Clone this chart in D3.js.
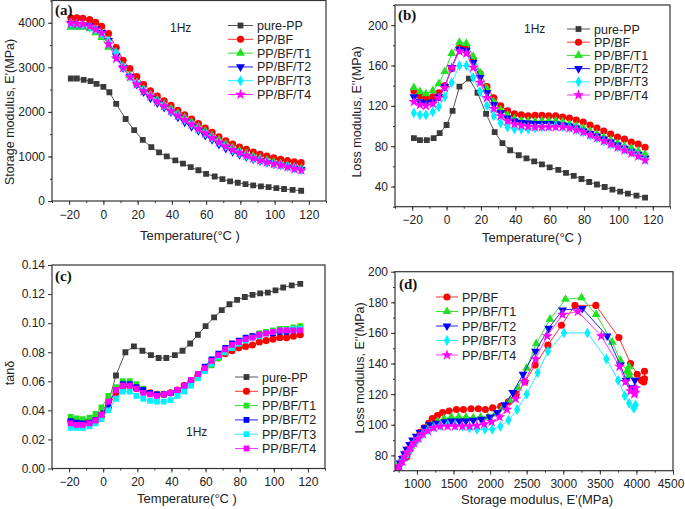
<!DOCTYPE html>
<html><head><meta charset="utf-8">
<script src="https://cdn.jsdelivr.net/npm/d3@7"></script>
<style>body{margin:0;background:#fff}svg{display:block;font-family:Arial,"Liberation Sans",sans-serif}</style>
</head><body><svg id="c" width="685" height="509"></svg>
<script>
const seriesNames = ["pure-PP","PP/BF","PP/BF/T1","PP/BF/T2","PP/BF/T3","PP/BF/T4"];
const tempTicks = [-20,0,20,40,60,80,100,120];

const tempPure = [-19,-15.5,-11.5,-7.5,-4,0,3.5,7.5,13,18,23,28,32.5,37,42,46.5,51,55.5,60,65,69.5,74,78.5,83,87.5,92,96.5,101,105.5,110.5,115.5];
const storagePure = [2750,2750,2720,2690,2630,2560,2440,2180,1840,1590,1370,1210,1090,1000,910,840,760,690,610,550,490,440,410,380,350,330,310,290,270,250,230];
const lossPure = [88,86,86,88,93,101,115,139,147,133,112,94,83,76,71,68,65,62,59,56.5,53.5,50.5,47.5,44.5,42,39.5,37,35,33,31,29];
const tanPure = [0.032,0.031,0.032,0.033,0.035,0.040,0.047,0.064,0.080,0.084,0.081,0.078,0.076,0.076,0.078,0.081,0.086,0.092,0.098,0.104,0.109,0.113,0.116,0.118,0.1195,0.1205,0.121,0.1225,0.1245,0.126,0.127];

const tempComp = [-19,-15.5,-12,-8,-4.5,-1,3,7.5,11.5,15.5,19.5,23.5,27.5,31.5,35.5,39.5,43.5,47.5,51.5,55.5,59.5,63.5,67.5,71.5,75.5,79.5,83.5,87.5,91.5,95.5,99.5,103.5,107.5,111.5,115.5];

const storageBF = [4110,4110,4100,4070,4010,3920,3760,3445,3160,2975,2790,2615,2475,2355,2250,2145,2035,1935,1840,1740,1635,1540,1440,1350,1280,1210,1160,1100,1045,1010,970,935,905,880,860];
const storageT1 = [3900,3900,3900,3870,3780,3670,3450,3250,3030,2820,2630,2500,2380,2270,2170,2070,1970,1870,1770,1670,1570,1470,1370,1280,1200,1130,1070,1010,960,920,880,840,800,760,730];
const storageT2 = [3980,3960,3950,3930,3860,3780,3600,3260,2990,2800,2620,2450,2310,2200,2100,2000,1880,1770,1670,1580,1470,1380,1270,1180,1110,1040,990,940,900,860,830,800,770,740,710];
const storageT3 = [3990,3970,3960,3900,3840,3750,3590,3330,3010,2790,2650,2500,2370,2250,2140,2030,1930,1820,1720,1620,1520,1420,1320,1230,1150,1080,1020,960,920,880,840,810,780,740,700];
const storageT4 = [3990,3980,3970,3920,3850,3770,3520,3200,2990,2780,2620,2470,2350,2230,2130,2020,1920,1820,1720,1620,1520,1420,1320,1230,1150,1080,1020,960,910,870,830,800,760,720,690];

const lossBF = [135,130,128,129,133,140,157,178,178,165,152,139,128,120,115,112,111,110,110.5,110.5,110,110,109,108,106,104,101,98,95,92,89,87,84,82,79];
const lossT1 = [138,134,132,135,142,154,172,183,182,169,153,137,124,116,111,107,105,105,104.5,105,105,105,104,102,100,98,95,92,89,86,83,80,78,75,72];
const lossT2 = [129,124,123,124,129,139,158,176,175,163,148,133,121,113,108,105,103.5,103,102.5,102.5,102.5,102,101,100,98,95,92.5,90,87,84,81,78,75,72,68];
const lossT3 = [113,111,111,114,119,129,143,160,160,148,134,120,110,103,99,97,97,97,98,99,99.5,100,99.5,98.5,96.5,94,91,88,85,82,79,77,74,71,67];
const lossT4 = [124,121,120,122,128,138,158,174,172,158,143,128,117,110,105,102,100.5,99.5,99,99,99,99,99,98,96,94,91,88,85,82,79,76,73,70,66];

const tanBF = [0.033,0.031,0.031,0.032,0.033,0.036,0.042,0.052,0.056,0.057,0.055,0.053,0.052,0.051,0.051,0.052,0.054,0.057,0.060,0.064,0.068,0.072,0.076,0.079,0.081,0.083,0.084,0.085,0.087,0.088,0.089,0.090,0.090,0.091,0.092];
const tanT1 = [0.0355,0.0345,0.034,0.035,0.0375,0.042,0.050,0.056,0.060,0.060,0.058,0.055,0.052,0.051,0.051,0.052,0.053,0.056,0.059,0.063,0.067,0.071,0.076,0.080,0.083,0.086,0.089,0.091,0.093,0.094,0.095,0.096,0.096,0.097,0.098];
const tanT2 = [0.0325,0.0315,0.031,0.0315,0.0335,0.037,0.044,0.054,0.058,0.058,0.056,0.054,0.052,0.051,0.051,0.052,0.054,0.057,0.061,0.065,0.070,0.075,0.079,0.083,0.086,0.088,0.090,0.091,0.092,0.093,0.093,0.094,0.094,0.095,0.096];
const tanT3 = [0.028,0.028,0.028,0.029,0.031,0.034,0.040,0.048,0.053,0.053,0.050,0.048,0.0465,0.046,0.046,0.047,0.050,0.053,0.057,0.062,0.067,0.072,0.077,0.080,0.083,0.086,0.088,0.090,0.091,0.093,0.094,0.095,0.095,0.096,0.096];
const tanT4 = [0.031,0.030,0.030,0.031,0.033,0.037,0.046,0.054,0.057,0.057,0.055,0.052,0.051,0.050,0.051,0.052,0.054,0.057,0.061,0.065,0.069,0.074,0.078,0.082,0.085,0.087,0.089,0.090,0.092,0.093,0.094,0.095,0.095,0.095,0.095];

const colors = ["#3a3a3a","#ff0000","#22e022","#0000ff","#00f0ff","#ff00ff"];
const lineColors = ["#555555","#ff3333","#33e033","#2222ff","#22eeff","#ff33ff"];

const svg = d3.select("#c");
const symbols = {
  square: {type: d3.symbolSquare, size: 34, rot: 0},
  circle: {type: d3.symbolCircle, size: 40, rot: 0},
  up: {type: d3.symbolTriangle, size: 34, rot: 0},
  down: {type: d3.symbolTriangle, size: 34, rot: 180},
  diamond: {type: d3.symbolDiamond, size: 34, rot: 0},
  star: {type: d3.symbolStar, size: 38, rot: 0}
};
const symA = ["square","circle","up","down","diamond","star"];
const symC = ["square","circle","square","square","square","square"];

function marker(g, sym, color, px, py) {
  const s = symbols[sym];
  g.append("path").attr("d", d3.symbol().type(s.type).size(s.size)())
    .attr("transform", `translate(${px},${py}) rotate(${s.rot})`)
    .attr("fill", color);
}

let clipId = 0;
function panel(cfg) {
  const g = svg.append("g");
  const x = d3.scaleLinear().domain(cfg.xd).range([cfg.x0, cfg.x1]);
  const y = d3.scaleLinear().domain(cfg.yd).range([cfg.y1, cfg.y0]);
  const id = "clip" + (clipId++);
  svg.append("clipPath").attr("id", id).append("rect")
    .attr("x", cfg.x0).attr("y", cfg.y0).attr("width", cfg.x1 - cfg.x0).attr("height", cfg.y1 - cfg.y0);
  const plot = g.append("g").attr("clip-path", `url(#${id})`);
  cfg.series.forEach(s => {
    const pts = s.xs.map((v, i) => [v, s.ys[i]]);
    plot.append("path").datum(pts)
      .attr("d", d3.line().x(d => x(d[0])).y(d => y(d[1])))
      .attr("fill", "none").attr("stroke", lineColors[s.idx]).attr("stroke-width", 1);
    const mg = plot.append("g");
    pts.forEach(p => marker(mg, s.sym, colors[s.idx], x(p[0]), y(p[1])));
  });
  // frame
  g.append("rect").attr("x", cfg.x0).attr("y", cfg.y0)
    .attr("width", cfg.x1 - cfg.x0).attr("height", cfg.y1 - cfg.y0)
    .attr("fill", "none").attr("stroke", "#333").attr("stroke-width", 1.2);
  // axes
  const ax = g.append("g").attr("transform", `translate(0,${cfg.y1})`)
    .call(d3.axisBottom(x).tickValues(cfg.xt).tickSize(4).tickPadding(5).tickFormat(cfg.xf || d3.format("d")));
  const axm = g.append("g").attr("transform", `translate(0,${cfg.y1})`)
    .call(d3.axisBottom(x).tickValues(cfg.xm).tickSize(2).tickFormat(""));
  const ay = g.append("g").attr("transform", `translate(${cfg.x0},0)`)
    .call(d3.axisLeft(y).tickValues(cfg.yt).tickSize(4).tickPadding(3).tickFormat(cfg.yf || d3.format("d")));
  const aym = g.append("g").attr("transform", `translate(${cfg.x0},0)`)
    .call(d3.axisLeft(y).tickValues(cfg.ym || []).tickSize(2).tickFormat(""));
  [ax, axm, ay, aym].forEach(a => {
    a.select(".domain").remove();
    a.selectAll("line").attr("stroke", "#333");
    a.selectAll("text").attr("font-size", 12).attr("fill", "#222")
      .attr("font-family", "Arial, 'Liberation Sans', sans-serif");
  });
  if (cfg.lastShift) {
    ax.selectAll(".tick text").filter((d, i, n) => i === n.length - 1).attr("dx", cfg.lastShift);
  }
  // titles
  g.append("text").attr("x", cfg.xtitle[0]).attr("y", cfg.xtitle[1]).attr("text-anchor", "middle")
    .attr("font-size", 13).attr("fill", "#222").text(cfg.xlabel);
  g.append("text").attr("transform", `translate(${cfg.ytitle[0]},${cfg.ytitle[1]}) rotate(-90)`)
    .attr("text-anchor", "middle").attr("font-size", 12.5).attr("fill", "#222").text(cfg.ylabel);
  g.append("text").attr("x", cfg.tag[0]).attr("y", cfg.tag[1]).attr("font-family", "'Liberation Serif','Times New Roman',serif")
    .attr("font-weight", "bold").attr("font-size", 15).attr("fill", "#111").text(cfg.tagText);
  if (cfg.hz) g.append("text").attr("x", cfg.hz[0]).attr("y", cfg.hz[1]).attr("font-size", 12).attr("fill", "#222").text("1Hz");
  // legend
  const L = cfg.legend;
  cfg.series.forEach((s, k) => {
    const yy = L.y + k * L.dy;
    g.append("line").attr("x1", L.x0).attr("x2", L.x1).attr("y1", yy).attr("y2", yy)
      .attr("stroke", lineColors[s.idx]).attr("stroke-width", 1);
    marker(g, s.sym, colors[s.idx], (L.x0 + L.x1) / 2, yy);
    g.append("text").attr("x", L.tx).attr("y", yy + 4.5).attr("font-size", 12.5).attr("fill", "#222").text(seriesNames[s.idx]);
  });
}

const tempLabel = "Temperature(\u00B0C )";
const storageList = [storagePure, storageBF, storageT1, storageT2, storageT3, storageT4];
const lossList = [lossPure, lossBF, lossT1, lossT2, lossT3, lossT4];
const tanList = [tanPure, tanBF, tanT1, tanT2, tanT3, tanT4];
const tMinor = d3.range(-30, 131, 10);

panel({
  x0: 52, x1: 326, y0: 0.5, y1: 201, xd: [-30, 130], yd: [0, 4500],
  xt: tempTicks, xm: tMinor, yt: [0,1000,2000,3000,4000], ym: d3.range(0, 4501, 500),
  series: seriesNames.map((n, i) => ({idx: i, sym: symA[i], xs: i === 0 ? tempPure : tempComp, ys: storageList[i]})),
  xlabel: tempLabel, xtitle: [190, 240], ylabel: "Storage modulus, E'(MPa)", ytitle: [14, 112],
  tag: [55, 15], tagText: "(a)", hz: [170, 32],
  legend: {x0: 228, x1: 253, tx: 257, y: 25.5, dy: 13.8}
});
panel({
  x0: 395, x1: 670, y0: 5, y1: 206.7, xd: [-30, 130], yd: [20, 220],
  xt: tempTicks, xm: tMinor, yt: [40,80,120,160,200], ym: d3.range(20, 221, 20),
  series: seriesNames.map((n, i) => ({idx: i, sym: symA[i], xs: i === 0 ? tempPure : tempComp, ys: lossList[i]})),
  xlabel: tempLabel, xtitle: [532, 242], ylabel: "Loss modulus, E''(MPa)", ytitle: [361, 112],
  tag: [398, 20], tagText: "(b)", hz: [524, 33],
  legend: {x0: 567, x1: 590, tx: 594, y: 29, dy: 13.2}
});
panel({
  x0: 52, x1: 325, y0: 265, y1: 468.5, xd: [-30, 130], yd: [0, 0.14],
  xt: tempTicks, xm: tMinor, yt: d3.range(0, 0.141, 0.02), yf: d3.format(".2f"),
  series: seriesNames.map((n, i) => ({idx: i, sym: symC[i], xs: i === 0 ? tempPure : tempComp, ys: tanList[i]})),
  xlabel: tempLabel, xtitle: [187, 503], ylabel: "tan\u03B4", ytitle: [14, 373],
  tag: [55, 281], tagText: "(c)", hz: [186, 436],
  legend: {x0: 235, x1: 258, tx: 262, y: 377, dy: 14.3}
});
panel({
  x0: 395, x1: 673, y0: 271.7, y1: 470.7, xd: [700, 4500], yd: [70, 200],
  xt: d3.range(1000, 4501, 500), xm: d3.range(750, 4501, 250), yt: d3.range(80, 201, 20), ym: d3.range(70, 201, 10),
  series: [1,2,3,4,5].map(i => ({idx: i, sym: symA[i], xs: storageList[i], ys: lossList[i]})),
  xlabel: "Storage modulus, E'(MPa)", xtitle: [537, 504], ylabel: "Loss modulus, E''(MPa)", ytitle: [364, 368],
  tag: [399, 289], tagText: "(d)", lastShift: -2.5,
  legend: {x0: 436, x1: 458, tx: 462, y: 297, dy: 14.5}
});
</script></body></html>
